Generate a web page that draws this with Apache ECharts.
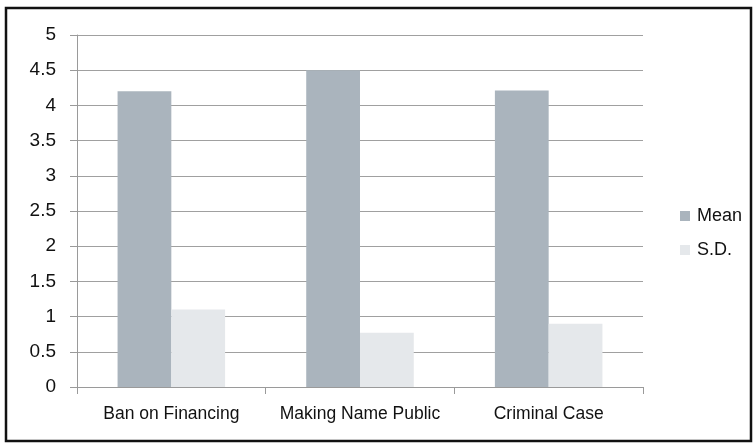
<!DOCTYPE html>
<html>
<head>
<meta charset="utf-8">
<script src="https://cdn.jsdelivr.net/npm/echarts@6/dist/echarts.min.js"></script>
<style>
  html, body { margin: 0; padding: 0; background: #fff; }
  #chart { width: 756px; height: 446px; }
</style>
</head>
<body>
<div id="chart"></div>
<script>
// Survey results: mean score and standard deviation per measure
const categories = ['Ban on Financing', 'Making Name Public', 'Criminal Case'];
const meanValues = [4.2, 4.5, 4.21];
const sdValues = [1.1, 0.77, 0.9];
const yTicks = [0, 0.5, 1, 1.5, 2, 2.5, 3, 3.5, 4, 4.5, 5];

const FONT = 'Liberation Sans, Arial, sans-serif';
const chart = echarts.init(document.getElementById('chart'));
chart.setOption({
  backgroundColor: '#ffffff',
  animation: false,
  textStyle: { fontFamily: FONT },
  graphic: [{
    type: 'rect',
    shape: { x: 6, y: 8, width: 745, height: 433 },
    style: { fill: 'none', stroke: '#111', lineWidth: 2.5 },
    z: 100
  }],
  grid: { left: 77, right: 113, top: 35, bottom: 59 },
  legend: {
    orient: 'vertical',
    left: 675,
    top: 202,
    itemWidth: 10,
    itemHeight: 10,
    itemGap: 16,
    icon: 'rect',
    textStyle: { fontSize: 18, color: '#111', fontFamily: FONT, padding: [0, 0, 0, 2] },
    data: ['Mean', 'S.D.']
  },
  xAxis: {
    type: 'category',
    data: categories,
    axisLine: { lineStyle: { color: '#9a9a9a', width: 1 } },
    axisTick: { show: true, length: 7, alignWithLabel: false, lineStyle: { color: '#9a9a9a' } },
    axisLabel: { fontSize: 17.5, color: '#111', margin: 18, interval: 0, hideOverlap: false },
    splitLine: { show: false }
  },
  yAxis: {
    type: 'value',
    min: yTicks[0],
    max: yTicks[yTicks.length - 1],
    interval: 0.5,
    axisLine: { show: true, lineStyle: { color: '#9a9a9a', width: 1 } },
    axisTick: { show: true, length: 7, lineStyle: { color: '#9a9a9a' } },
    axisLabel: { fontSize: 19, color: '#111', margin: 21 },
    splitLine: { show: true, lineStyle: { color: '#a0a0a0', width: 1 } }
  },
  series: [
    {
      name: 'Mean',
      type: 'bar',
      data: meanValues,
      barGap: '0%',
      barCategoryGap: '43%',
      itemStyle: { color: '#aab4bd' }
    },
    {
      name: 'S.D.',
      type: 'bar',
      data: sdValues,
      itemStyle: { color: '#e5e8eb' }
    }
  ]
});
</script>
</body>
</html>
